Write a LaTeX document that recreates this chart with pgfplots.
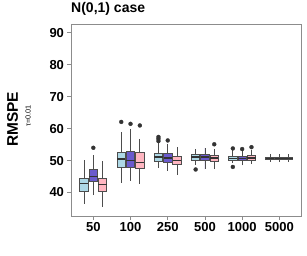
\documentclass[border=0pt]{standalone}
\usepackage{fontspec}
\setmainfont{Liberation Sans}
\usepackage{pgfplots}
\pgfplotsset{compat=1.18}
\usepgfplotslibrary{statistics}
\definecolor{cLB}{HTML}{ADD8E6}
\definecolor{cPU}{HTML}{6A5ACD}
\definecolor{cPK}{HTML}{FFB6C1}
\definecolor{cEdge}{HTML}{4D4D4D}
\definecolor{cDot}{HTML}{333333}
\definecolor{cFrame}{HTML}{8C8C8C}
\pgfplotsset{
  bx/.style={draw=cEdge, line width=0.8bp, mark=*, mark size=2bp,
    mark options={fill=cDot, draw=cDot, line width=0.3bp},
    boxplot/every median/.style={line width=1.1bp, draw=black!80}},
}
\begin{document}
\begin{tikzpicture}
\begin{axis}[
  at={(0,0)}, anchor=south west,
  scale only axis, width=230.7bp, height=192.7bp,
  xmin=-0.6, xmax=5.6, ymin=32.4, ymax=92.8,
  xtick={0,1,2,3,4,5}, xticklabels={50,100,250,500,1000,5000},
  ytick={40,50,60,70,80,90},
  axis line style={cFrame, line width=0.9bp},
  tick style={cFrame, line width=0.9bp},
  tick align=outside, tick pos=left,
  major tick length=3.5bp,
  ticklabel style={font=\fontsize{13bp}{15bp}\selectfont\bfseries},
  xticklabel style={yshift=1bp},
  /pgf/number format/assume math mode=true,
  boxplot/draw direction=y,
  boxplot/box extend=0.225,
  boxplot/whisker extend=0,
  clip=false,
]
% n = 50
\addplot[bx, fill=cLB, boxplot prepared={draw position=-0.25, lower whisker=36.5, lower quartile=40.3, median=42.7, upper quartile=44.5, upper whisker=50.2}] coordinates {};
\addplot[bx, fill=cPU, boxplot prepared={draw position=0, lower whisker=39.2, lower quartile=43.4, median=45.0, upper quartile=47.3, upper whisker=51.6}] coordinates {(0,54.0)};
\addplot[bx, fill=cPK, boxplot prepared={draw position=0.25, lower whisker=35.4, lower quartile=40.3, median=42.6, upper quartile=44.4, upper whisker=49.9}] coordinates {};
% n = 100
\addplot[bx, fill=cLB, boxplot prepared={draw position=0.75, lower whisker=43.0, lower quartile=47.9, median=50.5, upper quartile=52.7, upper whisker=59.0}] coordinates {(0,62.1)};
\addplot[bx, fill=cPU, boxplot prepared={draw position=1, lower whisker=43.6, lower quartile=47.9, median=50.0, upper quartile=52.9, upper whisker=59.8}] coordinates {(0,61.5)};
\addplot[bx, fill=cPK, boxplot prepared={draw position=1.25, lower whisker=42.7, lower quartile=47.4, median=49.5, upper quartile=52.4, upper whisker=56.9}] coordinates {(0,61.0)};
% n = 250
\addplot[bx, fill=cLB, boxplot prepared={draw position=1.75, lower whisker=47.7, lower quartile=49.8, median=51.1, upper quartile=52.1, upper whisker=55.6}] coordinates {(0,56.1) (0,56.8) (0,57.4)};
\addplot[bx, fill=cPU, boxplot prepared={draw position=2, lower whisker=46.8, lower quartile=49.5, median=50.8, upper quartile=52.1, upper whisker=55.3}] coordinates {(0,56.3)};
\addplot[bx, fill=cPK, boxplot prepared={draw position=2.25, lower whisker=45.6, lower quartile=48.9, median=50.0, upper quartile=51.4, upper whisker=54.3}] coordinates {};
% n = 500
\addplot[bx, fill=cLB, boxplot prepared={draw position=2.75, lower whisker=48.7, lower quartile=50.1, median=51.1, upper quartile=51.9, upper whisker=53.7}] coordinates {(0,47.2)};
\addplot[bx, fill=cPU, boxplot prepared={draw position=3, lower whisker=47.2, lower quartile=50.1, median=51.1, upper quartile=51.9, upper whisker=54.0}] coordinates {};
\addplot[bx, fill=cPK, boxplot prepared={draw position=3.25, lower whisker=47.2, lower quartile=49.8, median=50.8, upper quartile=51.6, upper whisker=53.7}] coordinates {(0,55.1)};
% n = 1000
\addplot[bx, fill=cLB, boxplot prepared={draw position=3.75, lower whisker=49.2, lower quartile=50.0, median=50.7, upper quartile=51.4, upper whisker=53.2}] coordinates {(0,48.0) (0,53.8)};
\addplot[bx, fill=cPU, boxplot prepared={draw position=4, lower whisker=48.5, lower quartile=50.1, median=50.7, upper quartile=51.3, upper whisker=52.9}] coordinates {(0,53.6)};
\addplot[bx, fill=cPK, boxplot prepared={draw position=4.25, lower whisker=48.9, lower quartile=50.1, median=50.8, upper quartile=51.5, upper whisker=53.2}] coordinates {(0,54.2)};
% n = 5000
\addplot[bx, fill=cLB, boxplot prepared={draw position=4.75, lower whisker=49.6, lower quartile=50.3, median=50.7, upper quartile=51.0, upper whisker=51.9}] coordinates {};
\addplot[bx, fill=cPU, boxplot prepared={draw position=5, lower whisker=49.6, lower quartile=50.3, median=50.7, upper quartile=51.0, upper whisker=51.9}] coordinates {};
\addplot[bx, fill=cPK, boxplot prepared={draw position=5.25, lower whisker=49.6, lower quartile=50.3, median=50.7, upper quartile=51.0, upper whisker=51.9}] coordinates {};
\end{axis}
\node[anchor=base west, font=\fontsize{14bp}{16bp}\selectfont\bfseries, inner sep=0pt] at (0bp,203.7bp) {N(0,1) case};
\node[rotate=90, font=\fontsize{15.4bp}{17bp}\selectfont\bfseries, inner sep=0pt] at (-58.5bp,97.2bp) {RMSPE};
\node[rotate=90, font=\fontsize{7.3bp}{8bp}\selectfont, inner sep=0pt] at (-43bp,100.7bp) {τ=0.01};
\pgfresetboundingbox
\path[use as bounding box] (-71bp,-39.3bp) rectangle (236bp,216.7bp);
\end{tikzpicture}
\end{document}
